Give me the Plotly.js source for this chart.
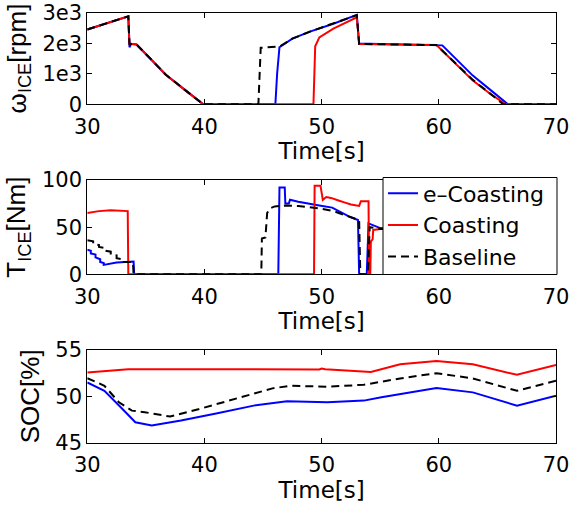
<!DOCTYPE html>
<html>
<head>
<meta charset="utf-8">
<script src="https://cdn.plot.ly/plotly-3.0.1.min.js"></script>
<style>html,body{margin:0;padding:0;background:#fff;}#chart{width:571px;height:506px;}</style>
</head>
<body>
<div id="chart"></div>
<script>
// ---------- Data ----------
const seriesNames = ['e\u2013Coasting', 'Coasting', 'Baseline'];
const timeTicks = [30, 40, 50, 60, 70];
const speedTicks = [0, 1000, 2000, 3000];
const speedTickText = ['0', '1e3', '2e3', '3e3'];
const torqueTicks = [0, 50, 100];
const socTicks = [45, 50, 55];

// Engine speed [rpm]
const tSpeedE = [30, 33.5, 33.6, 33.75, 34.2, 35.5, 36.7, 38.3, 39.9, 46.05, 46.2, 46.4, 47.5, 49, 51, 53.0, 53.2, 60.3, 61.5, 62.9, 64.5, 65.9, 70];
const speedE  = [2450, 2880, 1870, 1980, 1960, 1450, 970, 480, 0, 0, 1000, 1870, 2150, 2380, 2640, 2930, 1990, 1930, 1470, 940, 440, 0, 0];
const tSpeedC = [30, 33.5, 33.6, 33.75, 34.2, 35.5, 36.7, 38.3, 39.9, 49.3, 49.45, 49.8, 51, 53.0, 53.2, 59.8, 61, 62.9, 64.3, 65.7, 70];
const speedC  = [2450, 2880, 1980, 1980, 1960, 1450, 970, 480, 0, 0, 1900, 2190, 2480, 2850, 1975, 1940, 1480, 780, 370, 0, 0];
const tSpeedB = [30, 33.5, 33.6, 33.75, 34.2, 35.5, 36.7, 38.3, 39.9, 44.6, 44.8, 46.4, 47.5, 49, 51, 53.0, 53.2, 59.8, 61, 62.9, 64.3, 65.5, 70];
const speedB  = [2450, 2880, 1980, 1980, 1960, 1450, 970, 480, 0, 0, 1850, 1890, 2150, 2380, 2640, 2920, 1975, 1940, 1500, 800, 375, 0, 0];

// Engine torque [Nm]
const tTorqueE = [30, 30.3, 30.3, 30.7, 30.7, 31.1, 31.1, 31.4, 31.4, 31.9, 32.5, 33.95, 34.0, 46.3, 46.4, 46.85, 46.9, 47.2, 47.3, 48, 49, 49.8, 50.9, 51.5, 52.4, 53.1, 53.2, 53.85, 54.0, 55, 56, 59.8, 59.9, 70];
const torqueE  = [26, 25, 22, 21, 18, 16, 13, 12, 10, 11, 12.5, 13.5, 0, 0, 92, 92, 75, 75, 79, 77, 74.5, 73, 70.7, 67, 61, 57.6, 0, 0, 54, 49, 48, 48, 0, 0];
const tTorqueC = [30, 31, 32, 33, 33.45, 33.5, 49.35, 49.4, 49.9, 50.1, 50.4, 50.8, 51, 51.5, 52, 52.5, 53.2, 53.35, 54.0, 54.05, 54.15, 54.2, 54.35, 54.4, 55, 56, 59.8, 59.9, 70];
const torqueC  = [65, 67, 68, 67.5, 67, 0, 0, 94, 94, 79, 82, 81, 80, 78, 76, 74, 72.5, 77.5, 77.5, 0, 0, 35, 37, 47, 48, 48, 48, 0, 0];
const tTorqueB = [30, 30.5, 30.5, 31.0, 31.0, 31.5, 31.5, 32.0, 32.0, 32.5, 32.5, 33.0, 33.0, 33.9, 33.95, 44.85, 44.9, 45.2, 45.35, 45.6, 46, 47, 48, 49, 50, 51, 52, 52.7, 53.2, 53.3, 53.95, 54.1, 55, 56, 59.8, 59.9, 70];
const torqueB  = [36, 35, 32, 31, 29, 28, 25, 24, 21, 20, 17, 16, 13, 13, 0, 0, 38, 39, 65, 70, 72, 73, 72.5, 71, 69.5, 67, 63, 60, 57.5, 0, 0, 50, 48, 48, 48, 0, 0];

// State of charge [%]
const tSocE = [30, 31.46, 33, 34.1, 35.5, 38, 41.1, 44.2, 47.04, 50.5, 53.6, 55.1, 59.8, 62.9, 66.67, 70];
const socE  = [51.5, 50.6, 48.64, 47.2, 46.86, 47.4, 48.18, 49.0, 49.46, 49.36, 49.54, 49.9, 50.9, 50.43, 49.0, 50.07];
const tSocC = [30, 33.5, 40, 45, 49.8, 50, 50.3, 54.2, 56.7, 59.8, 62.9, 66.67, 70];
const socC  = [52.57, 52.93, 52.92, 52.9, 52.9, 53.0, 52.92, 52.64, 53.46, 53.82, 53.46, 52.32, 53.39];
const tSocB = [30, 31.46, 32.7, 33.8, 34.9, 37.07, 39.56, 42.68, 45.8, 47.35, 50.5, 53.6, 56.7, 59.8, 62.9, 66.67, 70];
const socB  = [51.96, 51.14, 49.36, 48.46, 48.29, 47.82, 48.64, 49.71, 50.86, 51.14, 51.04, 51.25, 51.93, 52.5, 51.93, 50.6, 51.68];

// ---------- Styles ----------
const colors = ['#0000ff', '#ff0000', '#000000'];
const dashes = ['solid', 'solid', '8px,5px'];
const W = 571, H = 506;
const xDom = [87.3 / W, 556 / W];
const yDomTop = [1 - 104.3 / H, 1 - 12.7 / H];
const yDomMid = [1 - 274.3 / H, 1 - 180 / H];
const yDomBot = [1 - 442.7 / H, 1 - 350 / H];
const tickFont = {family: 'DejaVu Sans', size: 21, color: '#000'};
const xTitleFont = {family: 'DejaVu Sans', size: 23, color: '#000'};
const yTitleFont = {family: 'Liberation Sans, Arial', size: 26, color: '#000'};

function mk(x, y, i, xa, ya, showLegend) {
  return {x: x, y: y, type: 'scatter', mode: 'lines', name: seriesNames[i],
    xaxis: xa, yaxis: ya, showlegend: showLegend, legendgroup: 'g' + i,
    line: {color: colors[i], width: 2, dash: dashes[i]}};
}

const data = [
  mk(tSpeedE, speedE, 0, 'x', 'y', false),
  mk(tSpeedC, speedC, 1, 'x', 'y', false),
  mk(tSpeedB, speedB, 2, 'x', 'y', false),
  mk(tTorqueE, torqueE, 0, 'x2', 'y2', true),
  mk(tTorqueC, torqueC, 1, 'x2', 'y2', true),
  mk(tTorqueB, torqueB, 2, 'x2', 'y2', true),
  mk(tSocE, socE, 0, 'x3', 'y3', false),
  mk(tSocC, socC, 1, 'x3', 'y3', false),
  mk(tSocB, socB, 2, 'x3', 'y3', false)
];

function xAxis(anchor) {
  return {domain: xDom, anchor: anchor, range: [30, 70], tickmode: 'array', tickvals: timeTicks,
    ticks: 'inside', ticklen: 5, tickwidth: 1, tickcolor: '#000', showline: true, linecolor: '#000',
    linewidth: 1, mirror: 'ticks', showgrid: false, zeroline: false, tickfont: tickFont,
    ticklabelstandoff: 3, automargin: false,
    title: {text: 'Time[s]', font: xTitleFont, standoff: 0}};
}
function yAxis(anchor, dom, range, vals, text, title) {
  const a = {domain: dom, anchor: anchor, range: range, tickmode: 'array', tickvals: vals,
    ticks: 'inside', ticklen: 5, tickwidth: 1, tickcolor: '#000', showline: true, linecolor: '#000',
    linewidth: 1, mirror: 'ticks', showgrid: false, zeroline: false, tickfont: tickFont,
    automargin: false, title: {text: title, font: yTitleFont, standoff: 8}};
  if (text) a.ticktext = text;
  return a;
}

const layout = {
  width: W, height: H,
  margin: {l: 0, r: 0, t: 0, b: 0},
  paper_bgcolor: '#fff', plot_bgcolor: '#fff',
  font: {family: 'DejaVu Sans', color: '#000'},
  xaxis: xAxis('y'),
  xaxis2: xAxis('y2'),
  xaxis3: xAxis('y3'),
  yaxis: yAxis('x', yDomTop, [0, 3000], speedTicks, speedTickText, '\u03c9<sub>ICE</sub>[rpm]'),
  yaxis2: yAxis('x2', yDomMid, [0, 100], torqueTicks, null, 'T<sub>ICE</sub>[Nm]'),
  yaxis3: yAxis('x3', yDomBot, [45, 55], socTicks, null, 'SOC[%]'),
  shapes: [{type: 'rect', xref: 'paper', yref: 'paper', layer: 'above',
    x0: 383 / W, x1: 557 / W, y0: 1 - 274.5 / H, y1: 1 - 177.5 / H,
    fillcolor: '#fff', line: {color: '#000', width: 1}}],
  showlegend: true,
  legend: {x: 383 / W, y: 1 - 172.5 / H, xanchor: 'left', yanchor: 'top',
    bgcolor: 'rgba(0,0,0,0)', borderwidth: 0,
    font: {family: 'DejaVu Sans', size: 22, color: '#000'}, tracegroupgap: 0}
};

Plotly.newPlot('chart', data, layout, {staticPlot: true, displayModeBar: false});
</script>
</body>
</html>
